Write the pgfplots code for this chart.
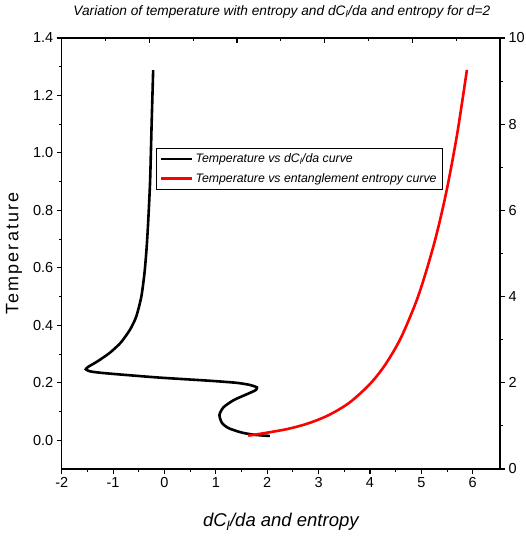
\documentclass[border=0pt]{standalone}
\usepackage{fontspec}
\setmainfont{Liberation Sans}
\usepackage{pgfplots}
\pgfplotsset{compat=1.18}
\begin{document}
\begin{tikzpicture}
\useasboundingbox (0,0) rectangle (526pt,544pt);
\pgfplotsset{
  common/.style={
    width=438.3pt, height=431pt, scale only axis,
    at={(61.7pt,75pt)}, anchor=south west,
    axis line style={line width=1.1pt,-},
    every tick/.style={black, line width=1.1pt},
    major tick length=5pt, minor tick length=3pt,
    /pgf/number format/assume math mode=true,
    tick label style={font=\fontsize{14.5}{16}\selectfont},
  }
}
\begin{axis}[common,
  xmin=0, xmax=10, ymin=0, ymax=10,
  axis x line*=top, axis y line*=right,
  xtick={0,2,...,10}, minor x tick num=1, xticklabels={},
  xtick align=inside,
  ytick={0,2,...,10}, minor y tick num=1, ytick align=outside,
]
\end{axis}
\begin{axis}[common,
  xmin=-2, xmax=6.53, ymin=-0.1, ymax=1.4,
  axis x line*=bottom, axis y line*=left,
  tick align=outside,
  xtick={-2,-1,...,6}, minor x tick num=1,
  ytick={0,0.2,...,1.4}, minor y tick num=1,
  yticklabel style={/pgf/number format/.cd, fixed, fixed zerofill, precision=1},
  xlabel={dC\textsubscript{l}/da and entropy},
  xlabel style={at={(axis description cs:0.5,0)}, anchor=center, yshift=-53pt, font=\itshape\fontsize{18.5}{20}\selectfont},
  ylabel={\addfontfeature{LetterSpace=12}Temperature},
  ylabel style={at={(axis description cs:0,0.5)}, anchor=center, yshift=47.7pt, font=\fontsize{18}{20}\selectfont},
  title={Variation of temperature with entropy and dC\textsubscript{l}/da and entropy for d=2},
  title style={at={(axis description cs:0.5,1)}, anchor=center, yshift=20pt, xshift=1pt, font=\itshape\fontsize{13.7}{15}\selectfont},
  legend cell align=left,
  legend style={at={(axis description cs:0.215,0.745)}, anchor=north west, draw=black, line width=0.6pt,
    font=\itshape\fontsize{12.3}{14}\selectfont, inner sep=3.5pt, row sep=5pt},
  legend image code/.code={\draw[#1, line width=2.6pt] (0cm,0cm) -- (1.1cm,0cm);},
]
\addplot[black, line width=2.6pt, smooth, tension=0.4] coordinates {
(-0.22,1.288) (-0.25,1.1) (-0.28,0.9) (-0.32,0.75) (-0.35,0.663) (-0.39,0.58)
(-0.45,0.5) (-0.55,0.43) (-0.67,0.385) (-0.85,0.34) (-1.06,0.305) (-1.3,0.275)
(-1.48,0.256) (-1.53,0.247) (-1.45,0.24) (-1.25,0.235) (-0.8,0.228) (-0.09,0.218)
(0.89,0.207) (1.4,0.2) (1.65,0.193) (1.8,0.184) (1.77,0.174) (1.6,0.16)
(1.35,0.14) (1.15,0.115) (1.07,0.088) (1.12,0.06) (1.25,0.042) (1.5,0.027)
(1.75,0.019) (2.05,0.015)
};
\addlegendentry{Temperature vs dC\textsubscript{l}/da curve}
\addplot[red, line width=2.6pt, smooth, tension=0.5] coordinates {
(1.63,0.016) (2.0,0.0265) (2.4,0.0395) (2.8,0.0589) (3.2,0.0879) (3.6,0.131)
(4.0,0.196) (4.3,0.264) (4.6,0.356) (4.9,0.483) (5.1,0.592) (5.3,0.72)
(5.5,0.877) (5.7,1.07) (5.886,1.289)
};
\addlegendentry{Temperature vs entanglement entropy curve}
\end{axis}
\end{tikzpicture}
\end{document}
